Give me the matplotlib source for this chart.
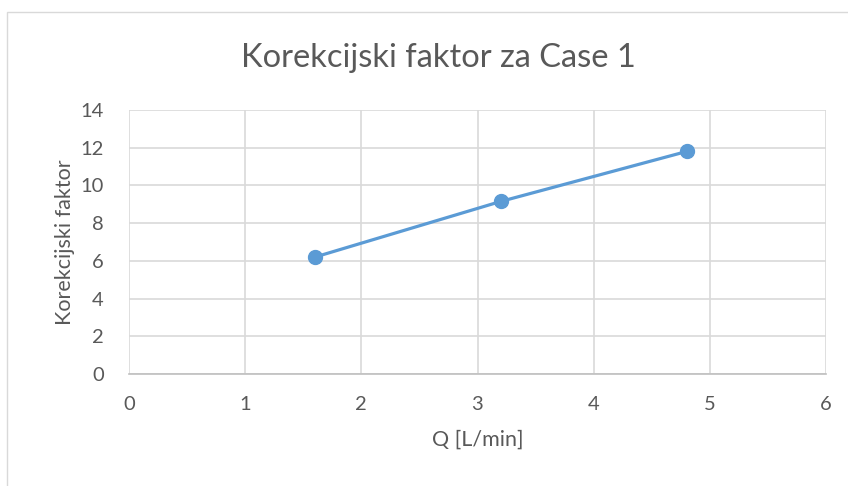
import matplotlib.pyplot as plt
from matplotlib.patches import Rectangle

## data
q = [1.6, 3.2, 4.8]
faktor = [6.2, 9.15, 11.8]
x_ticks = [0, 1, 2, 3, 4, 5, 6]
y_ticks = [0, 2, 4, 6, 8, 10, 12, 14]

plt.rcParams['font.family'] = ['Lato', 'DejaVu Sans']
txt = '#595959'
grid = '#d9d9d9'
blue = '#5b9bd5'

fig = plt.figure(figsize=(8.48, 4.86), dpi=100)
# chart frame
fig.patches.append(Rectangle((7/848, -0.1), 1.0, 1 - 12/486 + 0.1, transform=fig.transFigure,
                             fill=False, edgecolor=grid, linewidth=1.0))

ax = fig.add_axes([129/848, 1 - 374/486, 697/848, 264/486])
ax.plot(q, faktor, color=blue, linewidth=2.3, marker='o', markersize=10, zorder=3)

ax.set_xlim(0, 6)
ax.set_ylim(0, 14)
ax.set_xticks(x_ticks)
ax.set_yticks(y_ticks)
ax.grid(True, color=grid, linewidth=1.2)
ax.set_axisbelow(True)
for s in ['top', 'right', 'left']:
    ax.spines[s].set_visible(False)
ax.spines['bottom'].set_color('#bfbfbf')
ax.spines['bottom'].set_linewidth(1.2)
ax.tick_params(length=0, labelsize=14.5, labelcolor=txt)
ax.tick_params(axis='x', pad=16)
ax.tick_params(axis='y', pad=18)

ax.set_xlabel('Q [L/min]', fontsize=15.5, color=txt, labelpad=12)
ax.set_ylabel('Korekcijski faktor', fontsize=15.5, color=txt, labelpad=4)
fig.text(438/848, 1 - 58/486, 'Korekcijski faktor za Case 1', fontsize=23.5,
         color=txt, ha='center', va='center')

fig.savefig('out.png', dpi=100)
